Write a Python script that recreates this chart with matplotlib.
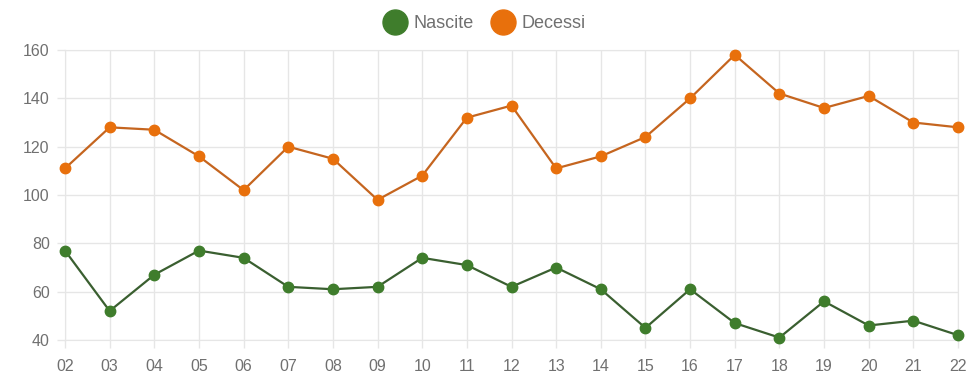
import matplotlib
matplotlib.use("Agg")
import matplotlib.pyplot as plt

# Anni (ultime due cifre) e conteggi annuali
anni = ["02", "03", "04", "05", "06", "07", "08", "09", "10", "11", "12",
        "13", "14", "15", "16", "17", "18", "19", "20", "21", "22"]
nascite = [77, 52, 67, 77, 74, 62, 61, 62, 74, 71, 62,
           70, 61, 45, 61, 47, 41, 56, 46, 48, 42]
decessi = [111, 128, 127, 116, 102, 120, 115, 98, 108, 132, 137,
           111, 116, 124, 140, 158, 142, 136, 141, 130, 128]
y_ticks = [40, 60, 80, 100, 120, 140, 160]

# (colore punti, colore linea)
VERDE = ("#3f7d2c", "#3a5f30")
ARANCIO = ("#e8700c", "#c5651f")
GRIGLIA = "#e6e6e6"
TESTO = "#707070"

plt.rcParams["font.family"] = ["Liberation Sans", "DejaVu Sans"]

W, H = 971, 378
fig = plt.figure(figsize=(W / 100, H / 100), dpi=100)
ax = fig.add_axes([65 / W, 38 / H, 893 / W, 290 / H])

x = list(range(len(anni)))
for serie, (punto, linea), nome in ((nascite, VERDE, "Nascite"),
                                     (decessi, ARANCIO, "Decessi")):
    ax.plot(x, serie, color=linea, lw=1.6, zorder=3, clip_on=False)
    ax.plot(x, serie, ls="none", marker="o", ms=7.5, color=punto,
            markeredgecolor=punto, label=nome, clip_on=False, zorder=4)

ax.set_xlim(0, len(anni) - 1)
ax.set_ylim(40, 160)
ax.set_xticks(x)
ax.set_xticklabels(anni)
ax.set_yticks(y_ticks)
ax.grid(True, color=GRIGLIA, lw=1)
ax.set_axisbelow(True)
for s in ax.spines.values():
    s.set_color(GRIGLIA)
ax.tick_params(axis="both", colors=GRIGLIA, length=6, width=1,
               labelcolor=TESTO, labelsize=11.5)
ax.tick_params(axis="y", pad=5)
ax.tick_params(axis="x", pad=8)

leg = fig.legend(*ax.get_legend_handles_labels(), loc="center",
                 bbox_to_anchor=(0.5, 1 - 24 / H), ncol=2, frameon=False,
                 fontsize=13, handlelength=1.1, handletextpad=0.45,
                 columnspacing=1.1, borderaxespad=0)
for h in leg.legend_handles:
    h.set_markersize(18)
for t in leg.get_texts():
    t.set_color(TESTO)

fig.savefig("out.png", dpi=100, facecolor="white")
